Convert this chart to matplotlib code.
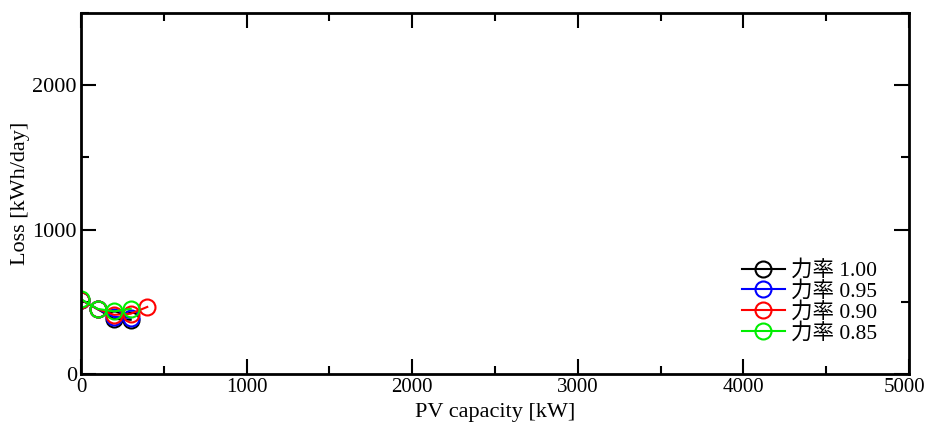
import matplotlib
matplotlib.use("Agg")

import matplotlib.pyplot as plt
from matplotlib.ticker import MultipleLocator, FuncFormatter

plt.rcParams["font.family"] = ["Liberation Serif", "Noto Sans CJK JP"]

# PV capacity [kW] and loss [kWh/day] per power factor
pv_pf100 = [0, 100, 200, 300]
loss_pf100 = [515, 450, 382, 376]
pv_pf095 = [0, 100, 200, 300]
loss_pf095 = [515, 450, 396, 390]
pv_pf090 = [0, 100, 200, 300, 400]
loss_pf090 = [515, 450, 410, 418, 465]
pv_pf085 = [0, 100, 200, 300]
loss_pf085 = [518, 452, 434, 452]

series = [
    (pv_pf100, loss_pf100, "black", "力率 1.00"),
    (pv_pf095, loss_pf095, "blue", "力率 0.95"),
    (pv_pf090, loss_pf090, "red", "力率 0.90"),
    (pv_pf085, loss_pf085, "#00ee00", "力率 0.85"),
]

x_max, y_max = 5000, 2500

fig = plt.figure(figsize=(9.27, 4.32), dpi=100)
ax = fig.add_axes([0.0874, 0.134, 0.8932, 0.836])

for x, y, c, lab in series:
    ax.plot(x, y, color=c, lw=1.5, marker="o", ms=11.5, mfc="none",
            mec=c, mew=1.5, label=lab)

ax.set_xlim(0, x_max)
ax.set_ylim(0, y_max)
ax.xaxis.set_major_locator(MultipleLocator(1000))
ax.xaxis.set_minor_locator(MultipleLocator(500))
ax.yaxis.set_major_locator(MultipleLocator(1000))
ax.yaxis.set_minor_locator(MultipleLocator(500))
# last x label is drawn separately so it stays inside the figure
ax.xaxis.set_major_formatter(
    FuncFormatter(lambda v, p: "" if v >= x_max else f"{v:.0f}"))
ax.tick_params(which="both", direction="in", top=True, right=True,
               labelsize=16, width=1.5, pad=3)
ax.tick_params(axis="x", labelsize=15)
ax.tick_params(which="major", length=11)
ax.tick_params(which="minor", length=6)
for s in ax.spines.values():
    s.set_linewidth(2)

ax.annotate(f"{x_max}", xy=(x_max, 0), xycoords=("data", "axes fraction"),
            xytext=(11.5, -3), textcoords="offset points",
            ha="right", va="top", fontsize=15)

ax.set_xlabel("PV capacity [kW]", fontsize=16, labelpad=4)
ax.set_ylabel("Loss [kWh/day]", fontsize=16, labelpad=2)

ax.legend(loc="lower right", bbox_to_anchor=(0.962, 0.085), frameon=False,
          fontsize=15.5, handlelength=2.0, handletextpad=0.3,
          labelspacing=0.0, borderpad=0, borderaxespad=0)

fig.savefig("out.png", dpi=100)
